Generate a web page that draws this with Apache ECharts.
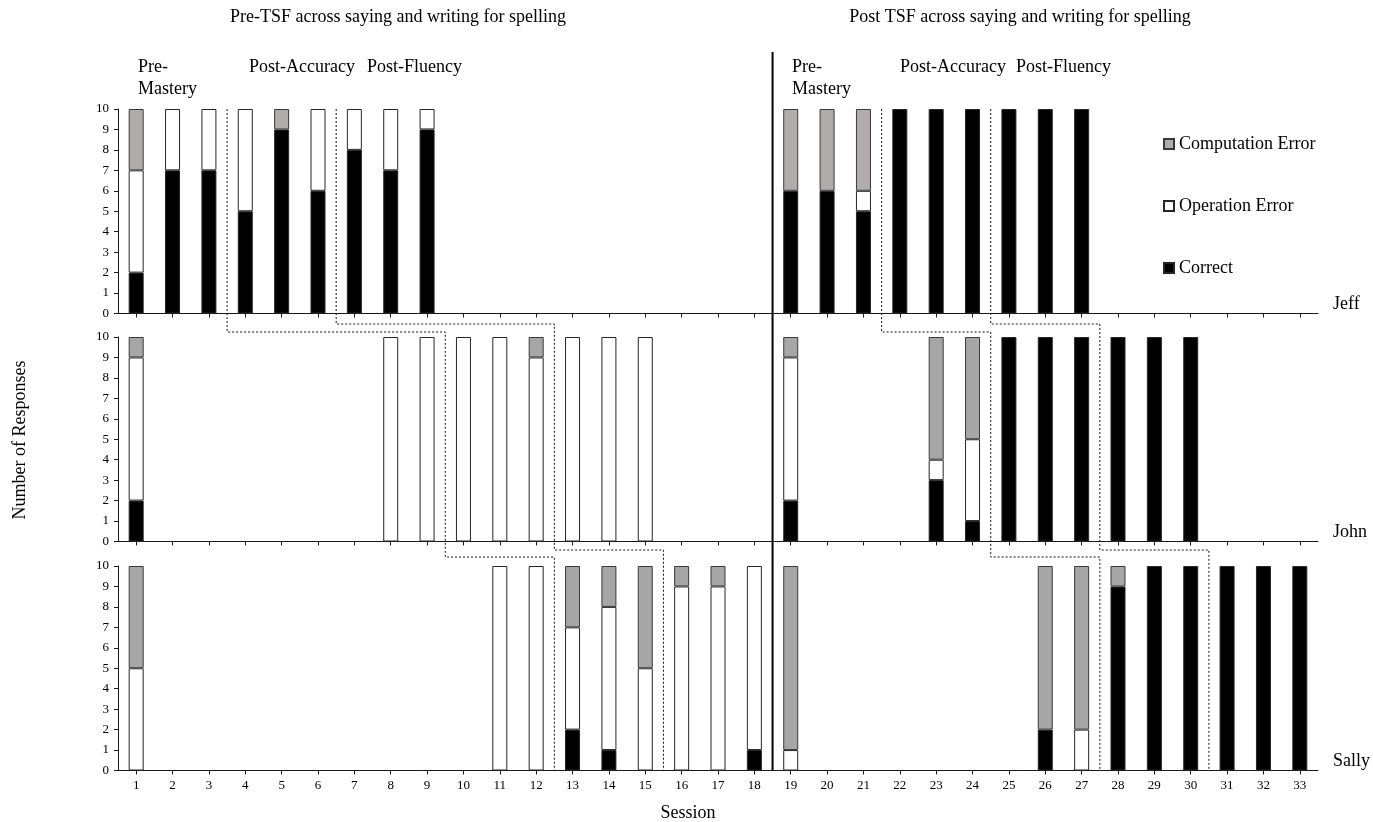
<!DOCTYPE html>
<html>
<head>
<meta charset="utf-8">
<script src="https://cdn.jsdelivr.net/npm/echarts@6/dist/echarts.min.js"></script>
<style>
html,body{margin:0;padding:0;background:#fff;}
#chart{width:1373px;height:822px;}
</style>
</head>
<body>
<div id="chart"></div>
<script>
// ---------- DATA ----------
const sessions = ['1','2','3','4','5','6','7','8','9','10','11','12','13','14','15','16','17','18',
                  '19','20','21','22','23','24','25','26','27','28','29','30','31','32','33'];
const students = ['Jeff', 'John', 'Sally'];
const legendOrder = ['Computation Error', 'Operation Error', 'Correct'];

//                    1  2  3  4  5  6  7  8  9 10 11 12 13 14 15 16 17 18 19 20 21 22 23 24 25 26 27 28 29 30 31 32 33
const jeffCorrect      = [2, 7, 7, 5, 9, 6, 8, 7, 9, 0, 0, 0, 0, 0, 0, 0, 0, 0, 6, 6, 5,10,10,10,10,10,10, 0, 0, 0, 0, 0, 0];
const jeffOperation    = [5, 3, 3, 5, 0, 4, 2, 3, 1, 0, 0, 0, 0, 0, 0, 0, 0, 0, 0, 0, 1, 0, 0, 0, 0, 0, 0, 0, 0, 0, 0, 0, 0];
const jeffComputation  = [3, 0, 0, 0, 1, 0, 0, 0, 0, 0, 0, 0, 0, 0, 0, 0, 0, 0, 4, 4, 4, 0, 0, 0, 0, 0, 0, 0, 0, 0, 0, 0, 0];

const johnCorrect      = [2, 0, 0, 0, 0, 0, 0, 0, 0, 0, 0, 0, 0, 0, 0, 0, 0, 0, 2, 0, 0, 0, 3, 1,10,10,10,10,10,10, 0, 0, 0];
const johnOperation    = [7, 0, 0, 0, 0, 0, 0,10,10,10,10, 9,10,10,10, 0, 0, 0, 7, 0, 0, 0, 1, 4, 0, 0, 0, 0, 0, 0, 0, 0, 0];
const johnComputation  = [1, 0, 0, 0, 0, 0, 0, 0, 0, 0, 0, 1, 0, 0, 0, 0, 0, 0, 1, 0, 0, 0, 6, 5, 0, 0, 0, 0, 0, 0, 0, 0, 0];

const sallyCorrect     = [0, 0, 0, 0, 0, 0, 0, 0, 0, 0, 0, 0, 2, 1, 0, 0, 0, 1, 0, 0, 0, 0, 0, 0, 0, 2, 0, 9,10,10,10,10,10];
const sallyOperation   = [5, 0, 0, 0, 0, 0, 0, 0, 0, 0,10,10, 5, 7, 5, 9, 9, 9, 1, 0, 0, 0, 0, 0, 0, 0, 2, 0, 0, 0, 0, 0, 0];
const sallyComputation = [5, 0, 0, 0, 0, 0, 0, 0, 0, 0, 0, 0, 3, 2, 5, 1, 1, 0, 9, 0, 0, 0, 0, 0, 0, 8, 8, 1, 0, 0, 0, 0, 0];

// last session of a phase (per student: Jeff, John, Sally); the dotted line falls after it
const preAccuracyChange  = [3, 9, 12];
const preFluencyChange   = [6, 12, 15];
const postAccuracyChange = [21, 24, 27];
const postFluencyChange  = [24, 27, 30];
const lastPreTsfSession  = 18;

// ---------- STYLE ----------
const FONT = "'Liberation Serif', 'Times New Roman', serif";
const grayByStudent = ['#b0acac', '#a6a6a6', '#a6a6a6'];
const gridTops = [109, 337, 566];
const GRID_H = 204.5;

const studentValues = [
  [jeffCorrect, jeffOperation, jeffComputation],
  [johnCorrect, johnOperation, johnComputation],
  [sallyCorrect, sallyOperation, sallyComputation]
];

const chart = echarts.init(document.getElementById('chart'), null, {renderer: 'canvas'});

const grids = [], xAxes = [], yAxes = [], series = [];
students.forEach((name, i) => {
  grids.push({left: 118, width: 1200, top: gridTops[i], height: GRID_H});
  xAxes.push({
    type: 'category', gridIndex: i, data: sessions, boundaryGap: true,
    axisLine: {show: true, lineStyle: {color: '#1a1a1a', width: 1}},
    axisTick: {show: true, alignWithLabel: true, length: 4, lineStyle: {color: '#1a1a1a'}},
    axisLabel: {show: i === 2, interval: 0, fontSize: 13, fontFamily: FONT, color: '#000', margin: 9},
    splitLine: {show: false},
    name: name, nameLocation: 'end', nameGap: 15,
    nameTextStyle: {fontSize: 18, fontFamily: FONT, color: '#000', verticalAlign: 'bottom', lineHeight: 18}
  });
  yAxes.push({
    type: 'value', gridIndex: i, min: 0, max: 10, interval: 1,
    axisLine: {show: true, lineStyle: {color: '#1a1a1a', width: 1}},
    axisTick: {show: true, length: 4, lineStyle: {color: '#1a1a1a'}},
    axisLabel: {fontSize: 13, fontFamily: FONT, color: '#000', margin: 9},
    splitLine: {show: false}
  });
  const [cor, op, comp] = studentValues[i];
  const clean = arr => arr.map(v => (v === 0 ? null : v));
  const common = {type: 'bar', xAxisIndex: i, yAxisIndex: i, stack: 'resp' + i, barWidth: 15};
  series.push(Object.assign({}, common, {
    name: 'Correct', data: clean(cor),
    itemStyle: {color: '#000000', borderColor: '#262626', borderWidth: 1}
  }));
  series.push(Object.assign({}, common, {
    name: 'Operation Error', data: clean(op),
    itemStyle: {color: '#ffffff', borderColor: '#262626', borderWidth: 1}
  }));
  series.push(Object.assign({}, common, {
    name: 'Computation Error', data: clean(comp),
    itemStyle: {color: grayByStudent[i], borderColor: '#3a3a3a', borderWidth: 1}
  }));
});

chart.setOption({
  animation: false,
  backgroundColor: '#ffffff',
  grid: grids,
  xAxis: xAxes,
  yAxis: yAxes,
  legend: {
    orient: 'vertical', left: 1163, top: 135, padding: 0, itemWidth: 10, itemHeight: 10, itemGap: 44,
    icon: 'rect', data: legendOrder, selectedMode: false,
    textStyle: {fontSize: 18, fontFamily: FONT, color: '#000', lineHeight: 18}
  },
  series: series
});

// ---------- phase lines & texts (positions from the chart's own scales) ----------
function px(g, session, value) {
  return chart.convertToPixel({gridIndex: g}, [String(session), value]);
}
function midX(g, s) {
  return (px(g, s, 0)[0] + px(g, s + 1, 0)[0]) / 2;
}
const topY = px(0, 1, 10)[1];
const bottomY = px(2, 1, 0)[1];
const johnTop = px(1, 1, 10)[1];
const sallyTop = px(2, 1, 10)[1];

function phasePath(changes, off1, off2) {
  const x0 = midX(0, changes[0]), x1 = midX(1, changes[1]), x2 = midX(2, changes[2]);
  const y01 = johnTop - off1, y12 = sallyTop - off2;
  return {
    type: 'polyline', silent: true,
    shape: {points: [[x0, topY], [x0, y01], [x1, y01], [x1, y12], [x2, y12], [x2, bottomY]]},
    style: {stroke: '#111', lineWidth: 1, lineDash: [2, 2], fill: null}
  };
}

const sepX = midX(0, lastPreTsfSession);
const textStyle = (t, x, y, align) => ({
  type: 'text', x: x, y: y, silent: true,
  style: {text: t, fill: '#000', font: '18px ' + FONT, textAlign: align || 'left', textVerticalAlign: 'middle'}
});

const graphics = [
  phasePath(preAccuracyChange, 5, 9),
  phasePath(preFluencyChange, 13, 16),
  phasePath(postAccuracyChange, 5, 9),
  phasePath(postFluencyChange, 13, 16),
  {type: 'line', silent: true, shape: {x1: sepX, y1: 52, x2: sepX, y2: bottomY},
   style: {stroke: '#000', lineWidth: 2}},
  textStyle('Pre-TSF across saying and writing for spelling', 398, 17, 'center'),
  textStyle('Post TSF across saying and writing for spelling', 1020, 17, 'center'),
  textStyle('Pre-', 138, 67), textStyle('Mastery', 138, 89),
  textStyle('Post-Accuracy', 249, 67), textStyle('Post-Fluency', 367, 67),
  textStyle('Pre-', 792, 67), textStyle('Mastery', 792, 89),
  textStyle('Post-Accuracy', 900, 67), textStyle('Post-Fluency', 1016, 67),
  textStyle('Session', 688, 813, 'center'),
  Object.assign(textStyle('Number of Responses', 20, 440, 'center'), {rotation: Math.PI / 2})
];

chart.setOption({graphic: graphics});
</script>
</body>
</html>
